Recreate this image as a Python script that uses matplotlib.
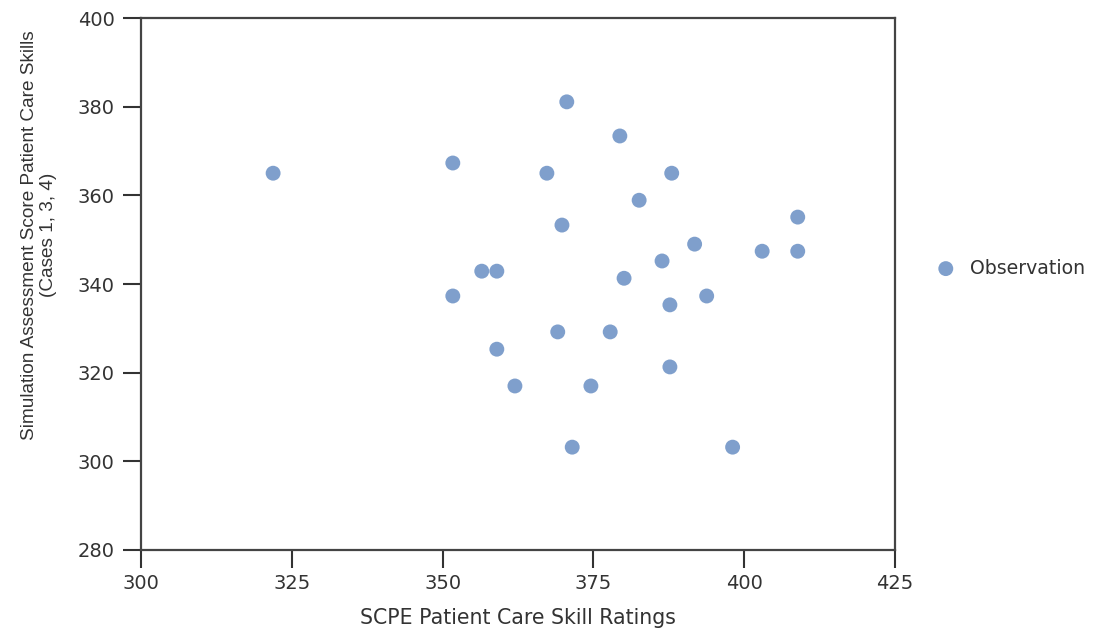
import matplotlib.pyplot as plt

scpe = [321.9, 351.7, 370.6, 379.4, 367.3, 388.0, 382.6, 369.8, 408.9, 391.8,
        403.0, 408.9, 386.4, 356.5, 359.0, 380.1, 351.7, 393.8, 387.7, 369.1,
        377.8, 359.0, 387.7, 362.0, 374.6, 371.5, 398.1]
sim = [365.0, 367.3, 381.1, 373.4, 365.0, 365.0, 358.9, 353.3, 355.1, 349.0,
       347.4, 347.4, 345.2, 342.9, 342.9, 341.3, 337.3, 337.3, 335.3, 329.2,
       329.2, 325.3, 321.3, 317.0, 317.0, 303.2, 303.2]

plt.rcParams['font.family'] = ['DejaVu Sans']

fig = plt.figure(figsize=(11.02, 6.34), dpi=100)
ax = fig.add_axes([0.128, 0.1325, 0.684, 0.839])

ax.scatter(scpe, sim, s=115, color='#7f9fcc', edgecolors='none', label='Observation')

ax.set_xlim(300, 425)
ax.set_ylim(280, 400)
ax.set_xticks([300, 325, 350, 375, 400, 425])
ax.set_yticks([280, 300, 320, 340, 360, 380, 400])
ax.tick_params(direction='out', length=13, width=1.5, colors='#333333', labelsize=14)
ax.tick_params(axis='y', pad=6)
ax.tick_params(axis='x', pad=4)
for sp in ax.spines.values():
    sp.set_linewidth(1.6)
    sp.set_color('#444444')

ax.set_xlabel('SCPE Patient Care Skill Ratings', fontsize=14.8, color='#333333', labelpad=11)
ax.set_ylabel('Simulation Assessment Score Patient Care Skills\n(Cases 1, 3, 4)',
              fontsize=13.7, color='#333333', family='Liberation Sans')
ax.yaxis.set_label_coords(-0.111, 0.592)

leg = ax.legend(loc='center left', bbox_to_anchor=(1.02, 0.53), frameon=False,
                fontsize=13.6, handletextpad=0.3, markerscale=1.0)
for t in leg.get_texts():
    t.set_color('#333333')

fig.savefig('out.png', dpi=100)
